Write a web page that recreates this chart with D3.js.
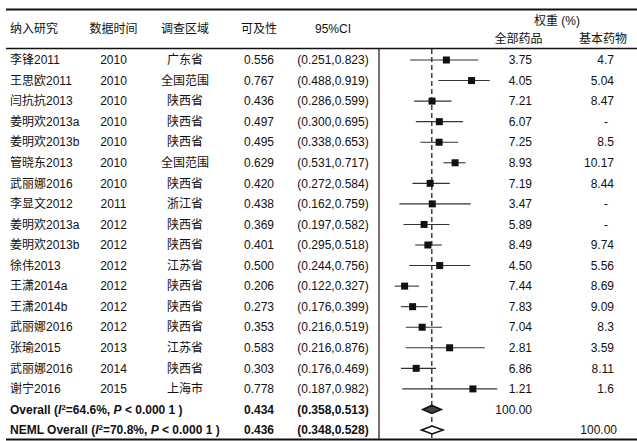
<!DOCTYPE html>
<html>
<head>
<meta charset="utf-8">
<script src="https://cdn.jsdelivr.net/npm/d3@7"></script>
<style>
  body { margin: 0; background: #fff; }
  text { font-family: "Liberation Sans", "Noto Sans CJK SC", sans-serif; font-size: 12px; fill: #111; }
</style>
</head>
<body>
<svg id="forest"></svg>
<script>
const studies = ["李锋2011", "王思欧2011", "闫抗抗2013", "姜明欢2013a", "姜明欢2013b", "管晓东2013", "武丽娜2016",
  "李显文2012", "姜明欢2013a", "姜明欢2013b", "徐伟2013", "王潇2014a", "王潇2014b", "武丽娜2016", "张瑜2015",
  "武丽娜2016", "谢宁2016"];
const years = [2010, 2010, 2010, 2010, 2010, 2010, 2010, 2011, 2012, 2012, 2012, 2012, 2012, 2012, 2013, 2014, 2015];
const regions = ["广东省", "全国范围", "陕西省", "陕西省", "陕西省", "全国范围", "陕西省", "浙江省", "陕西省", "陕西省",
  "江苏省", "陕西省", "陕西省", "陕西省", "江苏省", "陕西省", "上海市"];
const access = [0.556, 0.767, 0.436, 0.497, 0.495, 0.629, 0.420, 0.438, 0.369, 0.401, 0.500, 0.206, 0.273, 0.353, 0.583, 0.303, 0.778];
const lower = [0.251, 0.488, 0.286, 0.300, 0.338, 0.531, 0.272, 0.162, 0.197, 0.295, 0.244, 0.122, 0.176, 0.216, 0.216, 0.176, 0.187];
const upper = [0.823, 0.919, 0.599, 0.695, 0.653, 0.717, 0.584, 0.759, 0.582, 0.518, 0.756, 0.327, 0.399, 0.519, 0.876, 0.469, 0.982];
const weightAll = ["3.75", "4.05", "7.21", "6.07", "7.25", "8.93", "7.19", "3.47", "5.89", "8.49", "4.50", "7.44", "7.83", "7.04", "2.81", "6.86", "1.21"];
const weightEss = ["4.7", "5.04", "8.47", "-", "8.5", "10.17", "8.44", "-", "-", "9.74", "5.56", "8.69", "9.09", "8.3", "3.59", "8.11", "1.6"];

// pooled estimates: overall and NEML overall
const pooledLabel = [["Overall", "64.6%"], ["NEML Overall", "70.8%"]];
const pooledEst = [0.434, 0.436];
const pooledLower = [0.358, 0.348];
const pooledUpper = [0.513, 0.528];
const pooledWeight = [["100.00", ""], ["", "100.00"]];

const headers = ["纳入研究", "数据时间", "调查区域", "可及性", "95%CI"];

const W = 637, H = 441;
const svg = d3.select("#forest").attr("width", W).attr("height", H);

const x = d3.scaleLinear().domain([0, 1]).range([380, 499.4]);
const y = d3.scaleLinear().domain([0, 18]).range([60, 430]);

const colX = { name: 10, year: 113.5, region: 185, acc: 259, ci: 333, w1: 532, w2: 614 };

const fmt = d3.format(".3f");

// rules
svg.append("line").attr("x1", 6).attr("x2", W).attr("y1", 9.5).attr("y2", 9.5)
  .attr("stroke", "#111").attr("stroke-width", 2);
svg.append("line").attr("x1", 6).attr("x2", W).attr("y1", 48.5).attr("y2", 48.5)
  .attr("stroke", "#111").attr("stroke-width", 1.5);
svg.append("line").attr("x1", 6).attr("x2", W).attr("y1", 439.5).attr("y2", 439.5)
  .attr("stroke", "#111").attr("stroke-width", 2);
svg.append("line").attr("x1", 379).attr("x2", 379).attr("y1", 48.5).attr("y2", 439)
  .attr("stroke", "#111").attr("stroke-width", 1.2);

// headers
const hx = [colX.name, colX.year, colX.region, colX.acc, colX.ci];
svg.selectAll("text.hdr").data(headers).join("text")
  .attr("class", "hdr")
  .attr("x", (d, i) => hx[i])
  .attr("y", 29).attr("dy", "0.35em")
  .attr("text-anchor", (d, i) => i === 0 ? "start" : "middle")
  .text(d => d);
svg.append("text").attr("x", 557).attr("y", 21).attr("dy", "0.35em")
  .attr("text-anchor", "middle").text("权重 (%)");
svg.append("text").attr("x", 518.5).attr("y", 38.5).attr("dy", "0.35em")
  .attr("text-anchor", "middle").text("全部药品");
svg.append("text").attr("x", 603).attr("y", 38.5).attr("dy", "0.35em")
  .attr("text-anchor", "middle").text("基本药物");

// reference line at overall estimate
svg.append("line")
  .attr("x1", x(pooledEst[0])).attr("x2", x(pooledEst[0]))
  .attr("y1", 49).attr("y2", 439)
  .attr("stroke", "#111").attr("stroke-width", 1.2)
  .attr("stroke-dasharray", "5,3");

// study rows
const rows = svg.selectAll("g.row").data(studies).join("g")
  .attr("class", "row")
  .attr("transform", (d, i) => `translate(0,${y(i)})`);

rows.append("text").attr("x", colX.name).attr("dy", "0.35em").text(d => d);
rows.append("text").attr("x", colX.year).attr("dy", "0.35em").attr("text-anchor", "middle")
  .text((d, i) => years[i]);
rows.append("text").attr("x", colX.region).attr("dy", "0.35em").attr("text-anchor", "middle")
  .text((d, i) => regions[i]);
rows.append("text").attr("x", colX.acc).attr("dy", "0.35em").attr("text-anchor", "middle")
  .text((d, i) => fmt(access[i]));
rows.append("text").attr("x", colX.ci).attr("dy", "0.35em").attr("text-anchor", "middle")
  .text((d, i) => `(${fmt(lower[i])},${fmt(upper[i])})`);
rows.append("text").attr("x", colX.w1).attr("dy", "0.35em").attr("text-anchor", "end")
  .text((d, i) => weightAll[i]);
rows.append("text").attr("x", (d, i) => weightEss[i] === "-" ? colX.w2 - 6 : colX.w2)
  .attr("dy", "0.35em").attr("text-anchor", "end")
  .text((d, i) => weightEss[i]);

rows.append("line")
  .attr("x1", (d, i) => x(lower[i])).attr("x2", (d, i) => x(upper[i]))
  .attr("stroke", "#333").attr("stroke-width", 1.1);
rows.append("rect")
  .attr("x", (d, i) => x(access[i]) - 3.5).attr("y", -3.5)
  .attr("width", 7).attr("height", 7)
  .attr("fill", "#111");

// pooled rows
const pooled = svg.selectAll("g.pooled").data(pooledLabel).join("g")
  .attr("class", "pooled")
  .attr("transform", (d, i) => `translate(0,${y(17 + i)})`);

const lbl = pooled.append("text").attr("x", colX.name).attr("dy", "0.35em").attr("font-weight", "bold");
lbl.append("tspan").text(d => d[0] + " (");
lbl.append("tspan").attr("font-style", "italic").text("I");
lbl.append("tspan").attr("font-size", "8px").attr("dy", -4).text("2");
lbl.append("tspan").attr("dy", 4).text(d => "=" + d[1] + ", ");
lbl.append("tspan").attr("font-style", "italic").text("P");
lbl.append("tspan").text(" < 0.000 1 )");

pooled.append("text").attr("x", colX.acc).attr("dy", "0.35em").attr("text-anchor", "middle")
  .attr("font-weight", "bold").text((d, i) => fmt(pooledEst[i]));
pooled.append("text").attr("x", colX.ci).attr("dy", "0.35em").attr("text-anchor", "middle")
  .attr("font-weight", "bold").text((d, i) => `(${fmt(pooledLower[i])},${fmt(pooledUpper[i])})`);
pooled.append("text").attr("x", colX.w1).attr("dy", "0.35em").attr("text-anchor", "end")
  .text((d, i) => pooledWeight[i][0]);
pooled.append("text").attr("x", colX.w2 + 3).attr("dy", "0.35em").attr("text-anchor", "end")
  .text((d, i) => pooledWeight[i][1]);

pooled.append("path")
  .attr("d", (d, i) => {
    const a = x(pooledLower[i]), m = x(pooledEst[i]), b = x(pooledUpper[i]);
    return `M${a},0L${m},-4L${b},0L${m},4Z`;
  })
  .attr("fill", (d, i) => i === 0 ? "#444" : "#fff")
  .attr("stroke", "#111").attr("stroke-width", 1.6);
</script>
</body>
</html>
